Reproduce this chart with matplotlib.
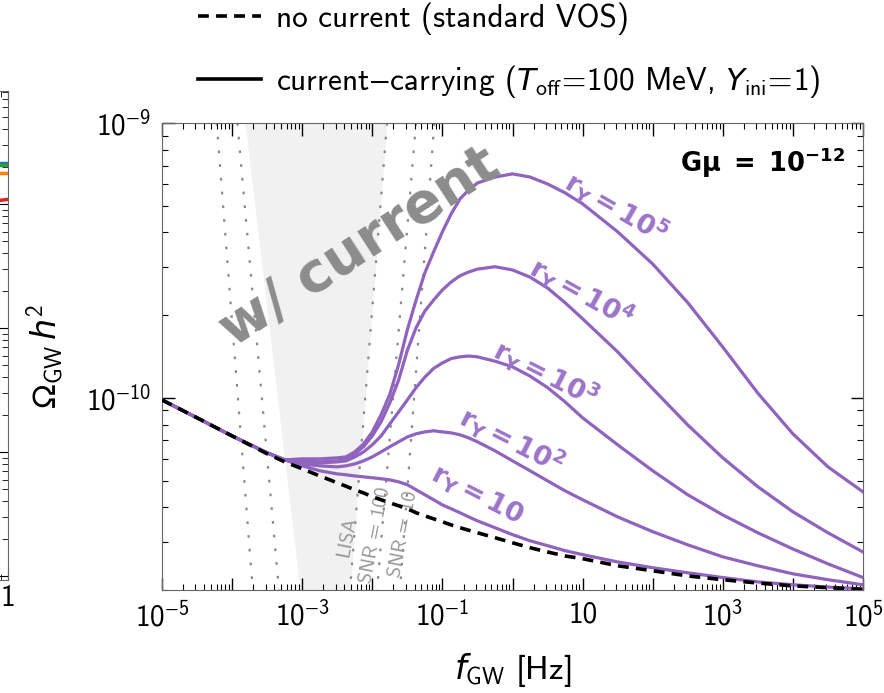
import numpy as np
import matplotlib
matplotlib.use("Agg")
import matplotlib.pyplot as plt
from matplotlib.lines import Line2D
from matplotlib.ticker import LogLocator, FuncFormatter, NullFormatter

plt.rcParams["font.family"] = ["cmss10", "DejaVu Sans"]
plt.rcParams["mathtext.fontset"] = "custom"
plt.rcParams["mathtext.rm"] = "cmss10"
plt.rcParams["mathtext.it"] = "DejaVu Sans:italic"
plt.rcParams["mathtext.bf"] = "DejaVu Sans:bold"
plt.rcParams["mathtext.fallback"] = "stixsans"

# -------------------------------------------------------
# Data
# -------------------------------------------------------

# log10 of the GW frequency [Hz]
log10_f_low = [-5, -4.5, -4, -3.5, -3.25]
log10_f_high = [-3, -2.75, -2.5, -2.375, -2.25, -2.125, -2, -1.875, -1.75, -1.625,
                -1.5, -1.375, -1.25, -1.125, -1, -0.875, -0.75, -0.625, -0.5, -0.25,
                0, 0.25, 0.5, 0.75, 1, 1.5, 2, 2.5, 3, 3.5, 4, 4.5, 5]

# Omega_GW h^2 in units of 1e-11
omega_vos = [9.83, 8.46, 7.27, 6.26, 5.85,
             5.52, 5.20, 4.91, 4.77, 4.63, 4.51, 4.37, 4.26, 4.15, 4.05,
             3.95, 3.82, 3.72, 3.63, 3.54, 3.45, 3.37, 3.30, 3.23, 3.10,
             2.97, 2.85, 2.75, 2.66, 2.60, 2.45, 2.35, 2.25, 2.18, 2.12, 2.07, 2.04, 2.01]

# current-carrying curves share the low-frequency part
omega_current_low = [9.83, 8.46, 7.27, 6.31, 5.95]
omega_current_high = {
    "10": [5.66, 5.43, 5.29, 5.25, 5.20, 5.16, 5.12, 5.08, 5.03, 4.95,
           4.83, 4.63, 4.44, 4.26, 4.08, 3.95, 3.82, 3.69, 3.57, 3.37,
           3.18, 3.02, 2.90, 2.78, 2.69, 2.53, 2.41, 2.31, 2.22, 2.14, 2.09, 2.05, 2.02],
    "10^2": [5.75, 5.66, 5.61, 5.66, 5.75, 5.90, 6.10, 6.36, 6.64, 6.92,
             7.21, 7.40, 7.52, 7.59, 7.52, 7.46, 7.34, 7.15, 6.92, 6.42,
             5.90, 5.43, 4.99, 4.59, 4.26, 3.69, 3.26, 2.92, 2.64, 2.45, 2.29, 2.18, 2.09],
    "10^3": [5.85, 5.80, 5.85, 5.90, 6.10, 6.36, 6.75, 7.27, 8.04, 8.89,
             9.83, 10.9, 11.9, 12.8, 13.4, 13.9, 14.1, 14.2, 14.1, 13.6,
             12.97, 12.0, 10.9, 9.67, 8.46, 6.75, 5.43, 4.44, 3.75, 3.23, 2.82, 2.49, 2.22],
    "10^4": [5.90, 5.85, 5.90, 6.00, 6.26, 6.64, 7.27, 8.18, 9.59, 11.6,
             14.9, 18.0, 20.7, 22.7, 24.7, 26.4, 27.8, 28.7, 29.4, 30.0,
             29.2, 27.5, 25.1, 22.2, 19.4, 14.7, 10.8, 7.97, 6.05, 4.75, 3.85, 3.23, 2.75],
    "10^5": [6.00, 6.00, 6.05, 6.10, 6.36, 6.80, 7.52, 8.68, 10.3, 13.2,
             17.7, 22.7, 28.5, 34.0, 40.2, 46.7, 52.9, 57.1, 60.5, 63.6,
             65.3, 63.6, 60.0, 55.7, 50.8, 40.2, 30.7, 22.2, 15.3, 10.4, 7.40, 5.61, 4.55],
}

# sensitivity curve branches: frequency at Omega = 1e-9 and at Omega = 2e-11
sens_omega = [1e-9, 2e-11]
lisa_left_f = [1.53e-4, 9.3e-4]
lisa_right_f = [1.62e-2, 4.81e-3]
snr100_left_f = [1.19e-4, 4.66e-4]
snr100_right_f = [4.20e-2, 1.17e-2]
snr10_left_f = [6.03e-5, 1.97e-4]
snr10_right_f = [7.66e-2, 2.48e-2]

# neighbouring panel (only its right edge is visible)
left_panel_x = [0.5, 1.0]
left_panel_lines = {
    "tab:blue": [2.15e-9, 2.15e-9],
    "tab:green": [2.05e-9, 2.05e-9],
    "tab:orange": [1.77e-9, 1.77e-9],
    "tab:red": [0.98e-9, 1.09e-9],
}

purple = "#8f63be"
label_purple = "#9b74c9"

f_gw = 10.0 ** np.array(log10_f_low + log10_f_high)

# -------------------------------------------------------
# Figure
# -------------------------------------------------------

fig = plt.figure(figsize=(8.84, 6.93), dpi=100)

# neighbouring panel sliver
axl = fig.add_axes([-600 / 884, 113 / 693, 608 / 884, 489 / 693])
for color, vals in left_panel_lines.items():
    axl.plot(left_panel_x, vals, color=color, lw=2.5)
axl.set_xscale("log")
axl.set_yscale("log")
axl.set_xlim(1e-4, 1)
axl.set_ylim(9.3e-13, 8.15e-9)
axl.tick_params(which="both", direction="in", right=True, top=True,
                labelsize=21, labelleft=False)
axl.tick_params(which="major", length=8)
axl.tick_params(which="minor", length=4)
axl.xaxis.set_major_formatter(FuncFormatter(lambda v, p: "1" if abs(v - 1) < 1e-9 else ""))
axl.xaxis.set_minor_formatter(NullFormatter())
axl.xaxis.offsetText.set_visible(False)
axl.yaxis.offsetText.set_visible(False)
for sp in axl.spines.values():
    sp.set_color("#666666")

# main panel
ax = fig.add_axes([162 / 884, 103 / 693, 701 / 884, 467 / 693])
ax.set_xscale("log")
ax.set_yscale("log")

ax.fill_betweenx(sens_omega, lisa_left_f, lisa_right_f, color="#f1f1f1", lw=0, zorder=0)

dot_style = dict(color="#8a8a8a", lw=1.6, linestyle=(0, (1.2, 5)), zorder=1)
for branch in [snr10_left_f, snr100_left_f, lisa_right_f, snr100_right_f, snr10_right_f]:
    ax.plot(branch, sens_omega, **dot_style)

sens_text = dict(rotation=79, color="#999999", fontsize=14.5, ha="center", va="center", zorder=2)
ax.text(4.36e-3, 3.13e-11, "LISA", **sens_text)
ax.text(1.09e-2, 3.16e-11, "SNR = 100", **sens_text)
ax.text(2.74e-2, 3.2e-11, "SNR = 10", **sens_text)

for key, vals in omega_current_high.items():
    omega = np.array(omega_current_low + vals) * 1e-11
    ax.plot(f_gw, omega, color=purple, lw=2.3, zorder=3)

ax.plot(f_gw, np.array(omega_vos) * 1e-11, color="black", lw=2.6,
        linestyle=(0, (3, 2)), zorder=4)

# curve labels
curve_labels = [
    (r"$\mathbf{r_Y = 10^5}$", 0.648, 0.821, -30),
    (r"$\mathbf{r_Y = 10^4}$", 0.599, 0.638, -29),
    (r"$\mathbf{r_Y = 10^3}$", 0.548, 0.465, -27),
    (r"$\mathbf{r_Y = 10^2}$", 0.499, 0.321, -27),
    (r"$\mathbf{r_Y = 10}$", 0.449, 0.203, -27),
]
for txt, x, y, rot in curve_labels:
    ax.text(x, y, txt, transform=ax.transAxes, rotation=rot, color=label_purple,
            fontsize=19.5, ha="center", va="center", math_fontfamily="dejavusans", zorder=5)

ax.text(0.282, 0.735, "w/ current", transform=ax.transAxes, rotation=33,
        color="#8c8c8c", fontsize=40, fontweight="bold", family="DejaVu Sans",
        ha="center", va="center", zorder=6)

ax.text(0.975, 0.915, r"$\mathbf{G\mu\ =\ 10^{-12}}$", transform=ax.transAxes,
        fontsize=18.5, ha="right", va="center", math_fontfamily="dejavusans", zorder=6)

# axes
ax.set_xlim(1e-5, 1e5)
ax.set_ylim(2e-11, 1e-9)


def x_fmt(val, pos):
    e = int(round(np.log10(val)))
    if e % 2 == 0:
        return ""
    if e == 1:
        return "10"
    return rf"$10^{{{e}}}$"


def y_fmt(val, pos):
    e = int(round(np.log10(val)))
    return rf"$10^{{{e}}}$"


ax.xaxis.set_major_locator(LogLocator(base=10, subs=(1.0,), numticks=30))
ax.xaxis.set_minor_locator(LogLocator(base=10, subs=np.arange(2, 10), numticks=200))
ax.xaxis.set_major_formatter(FuncFormatter(x_fmt))
ax.xaxis.set_minor_formatter(NullFormatter())
ax.yaxis.set_major_locator(LogLocator(base=10, subs=(1.0,), numticks=30))
ax.yaxis.set_minor_locator(LogLocator(base=10, subs=np.arange(2, 10), numticks=200))
ax.yaxis.set_major_formatter(FuncFormatter(y_fmt))
ax.yaxis.set_minor_formatter(NullFormatter())

ax.tick_params(which="both", direction="in", top=True, right=True, labelsize=21)
ax.tick_params(which="major", length=9, width=1, pad=8)
ax.tick_params(which="minor", length=4.5, width=0.8)
for sp in ax.spines.values():
    sp.set_color("#666666")

ax.set_xlabel(r"$f_{\mathrm{GW}}$ [Hz]", fontsize=24, labelpad=14)
ax.set_ylabel(r"$\Omega_{\mathrm{GW}}\,h^2$", fontsize=24, labelpad=14)

# legend
handles = [
    Line2D([], [], color="black", lw=2.6, linestyle=(0, (3, 2))),
    Line2D([], [], color="black", lw=2.6),
]
labels = [
    "no current (standard VOS)",
    r"current$-$carrying ($T_{\mathrm{off}}\!=\!100$ MeV, $Y_{\mathrm{ini}}\!=\!1$)",
]
fig.legend(handles, labels, loc="upper left", bbox_to_anchor=(198 / 884, 0.997),
           frameon=False, fontsize=22.5, borderpad=0, borderaxespad=0,
           handlelength=2.0, handletextpad=0.5, labelspacing=0.9)

fig.savefig("out.png", dpi=100)
